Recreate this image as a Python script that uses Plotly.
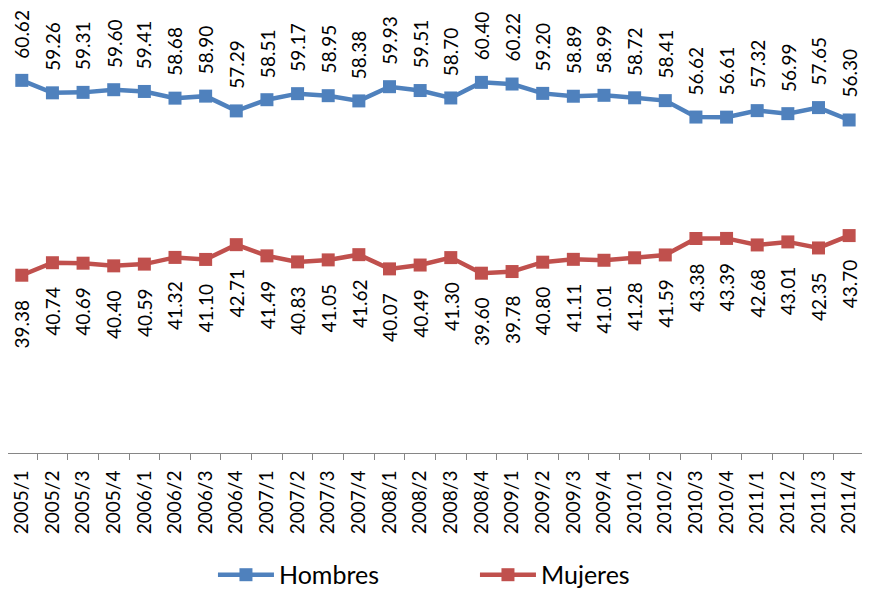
import plotly.graph_objects as go

categories = ["2005/1", "2005/2", "2005/3", "2005/4", "2006/1", "2006/2", "2006/3", "2006/4",
              "2007/1", "2007/2", "2007/3", "2007/4", "2008/1", "2008/2", "2008/3", "2008/4",
              "2009/1", "2009/2", "2009/3", "2009/4", "2010/1", "2010/2", "2010/3", "2010/4",
              "2011/1", "2011/2", "2011/3", "2011/4"]
hombres = [60.62, 59.26, 59.31, 59.60, 59.41, 58.68, 58.90, 57.29, 58.51, 59.17, 58.95, 58.38,
           59.93, 59.51, 58.70, 60.40, 60.22, 59.20, 58.89, 58.99, 58.72, 58.41, 56.62, 56.61,
           57.32, 56.99, 57.65, 56.30]
mujeres = [39.38, 40.74, 40.69, 40.40, 40.59, 41.32, 41.10, 42.71, 41.49, 40.83, 41.05, 41.62,
           40.07, 40.49, 41.30, 39.60, 39.78, 40.80, 41.11, 41.01, 41.28, 41.59, 43.38, 43.39,
           42.68, 43.01, 42.35, 43.70]

BLUE = "#4F81BD"
RED = "#C0504D"
FONT = "Lato"

fig = go.Figure()
fig.add_trace(go.Scatter(x=categories, y=hombres, name="Hombres", mode="lines+markers",
                         line=dict(color=BLUE, width=4.5),
                         marker=dict(symbol="square", size=13, color=BLUE),
                         cliponaxis=False))
fig.add_trace(go.Scatter(x=categories, y=mujeres, name="Mujeres", mode="lines+markers",
                         line=dict(color=RED, width=4.5),
                         marker=dict(symbol="square", size=13, color=RED),
                         cliponaxis=False))

annotations = []
for c, v in zip(categories, hombres):
    annotations.append(dict(x=c, y=v, xref="x", yref="y", text=f"{v:.2f}", textangle=-90,
                            showarrow=False, xanchor="center", yanchor="bottom", yshift=20,
                            font=dict(family=FONT, size=19, color="black")))
for c, v in zip(categories, mujeres):
    annotations.append(dict(x=c, y=v, xref="x", yref="y", text=f"{v:.2f}", textangle=-90,
                            showarrow=False, xanchor="center", yanchor="top", yshift=-22,
                            font=dict(family=FONT, size=19, color="black")))

fig.update_layout(
    width=854, height=582,
    margin=dict(l=0, r=0, t=23, b=137, autoexpand=False),
    paper_bgcolor="white", plot_bgcolor="white",
    font=dict(family=FONT, size=19, color="black"),
    showlegend=True,
    legend=dict(orientation="h", x=0.240, xanchor="left", y=-0.289, yanchor="middle",
                font=dict(family=FONT, size=25, color="black"),
                itemwidth=56, entrywidth=191),
    annotations=annotations,
    xaxis=dict(type="category", range=[-0.45, 27.42], showgrid=False, showline=True,
               linecolor="#868686", linewidth=1,
               ticks="outside", tickson="boundaries", ticklen=6, tickcolor="#868686",
               tickangle=-90, tickfont=dict(family=FONT, size=19, color="black"),
               ticklabelstandoff=9, automargin=False, zeroline=False),
    yaxis=dict(range=[20, 66], visible=False, showgrid=False, zeroline=False),
)

fig.write_html("out.html")
